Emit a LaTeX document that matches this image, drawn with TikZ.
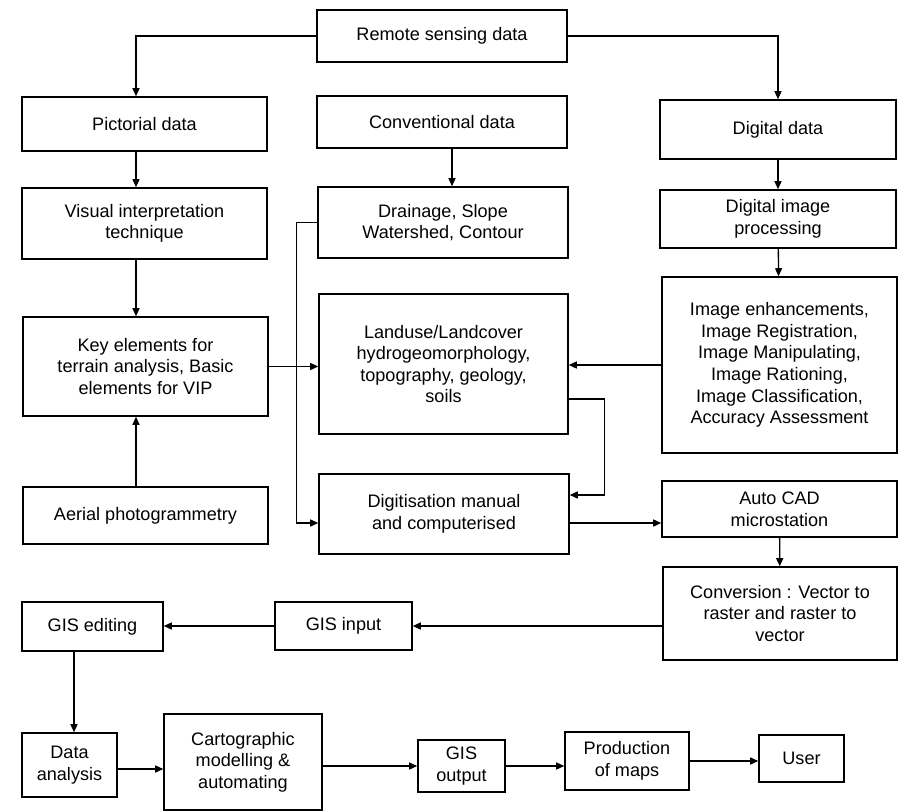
\documentclass[tikz,border=0pt]{standalone}
\usepackage{fontspec}
\setmainfont{Liberation Sans}
\usepackage{tikz}
\usetikzlibrary{arrows.meta}

\begin{document}
\begin{tikzpicture}[x=0.02cm, y=-0.02cm,
    box/.style = {draw=black, line width=0.9pt, align=center, inner sep=2pt,
                  font=\fontsize{10.3}{12.3}\selectfont},
    flow/.style = {draw=black, line width=0.75pt, -{Triangle[length=1.6mm,width=1.4mm]}}]
     \useasboundingbox (0,0) rectangle (899,811);
     % top row
     \node[box, minimum width=5cm, minimum height=1.04cm] (rs) at (442,36) {Remote sensing data};
     \node[box, minimum width=4.9cm, minimum height=1.08cm] (pict) at (144.5,124) {Pictorial data};
     \node[box, minimum width=5cm, minimum height=1.04cm] (conv) at (442,122) {Conventional data};
     \node[box, minimum width=4.72cm, minimum height=1.18cm] (digi) at (778,129.5) {Digital data};
     % second row
     \node[box, minimum width=4.9cm, minimum height=1.42cm] (visual) at (144.5,223.5) {Visual interpretation\\technique};
     \node[box, minimum width=5cm, minimum height=1.42cm] (drain) at (443,222.5) {Drainage, Slope\\Watershed, Contour};
     \node[box, minimum width=4.72cm, minimum height=1.16cm] (dip) at (778,219) {Digital image\\processing};
     % middle row
     \node[box, minimum width=4.9cm, minimum height=1.98cm] (key) at (145.5,366.5) {Key elements for\\terrain analysis, Basic\\elements for VIP};
     \node[box, minimum width=4.98cm, minimum height=2.8cm] (land) at (443.5,364) {Landuse/Landcover\\hydrogeomorphology,\\topography, geology,\\soils};
     \node[box, minimum width=4.7cm, minimum height=3.52cm] (img) at (779.5,365) {Image enhancements,\\Image Registration,\\Image Manipulating,\\Image Rationing,\\Image Classification,\\Accuracy Assessment};
     \node[box, minimum width=4.9cm, minimum height=1.14cm] (aerial) at (145.5,515.5) {Aerial photogrammetry};
     \node[box, minimum width=5cm, minimum height=1.6cm] (digit) at (444,514) {Digitisation manual\\and computerised};
     \node[box, minimum width=4.7cm, minimum height=1.12cm] (cad) at (779.5,509) {Auto CAD\\microstation};
     \node[box, minimum width=4.68cm, minimum height=1.86cm] (convert) at (780,613.5) {Conversion : Vector to\\raster and raster to\\vector};
     % GIS rows
     \node[box, minimum width=2.74cm, minimum height=0.96cm] (gisin) at (343.5,626) {GIS input};
     \node[box, minimum width=2.82cm, minimum height=0.98cm] (gisedit) at (92.5,626.5) {GIS editing};
     \node[box, minimum width=1.9cm, minimum height=1.28cm] (analysis) at (69.5,765) {Data\\analysis};
     \node[box, minimum width=3.16cm, minimum height=1.92cm] (carto) at (243,762) {Cartographic\\modelling \&\\automating};
     \node[box, minimum width=1.74cm, minimum height=1.04cm] (gisout) at (461.5,766) {GIS\\output};
     \node[box, minimum width=2.48cm, minimum height=1.16cm] (prod) at (627,761) {Production\\of maps};
     \node[box, minimum width=1.7cm, minimum height=0.94cm] (user) at (801.5,758.5) {User};

     % connectors
     \draw[flow] (rs.west) -| ([xshift=-0.17cm]pict.north);
     \draw[flow] (rs.east) -| (digi.north);
     \draw[flow] ([xshift=-0.17cm]pict.south) -- ([xshift=-0.17cm]visual.north);
     \draw[flow] ([xshift=0.2cm]conv.south) -- ([xshift=0.2cm]conv.south |- drain.north);
     \draw[flow] (digi) -- (dip);
     \draw[flow] ([xshift=-0.17cm]visual.south) -- ([xshift=-0.17cm]visual.south |- key.north);
     \draw[flow] (dip) -- (img);
     \draw[flow] ([xshift=-0.19cm]aerial.north) -- ([xshift=-0.19cm]aerial.north |- key.south);
     \draw[flow] (key.east) -- (key.east -| land.west);
     \draw[flow] (img.west) -- (img.west -| land.east);
     \draw[flow] (drain.west) -- ++(-21,0) |- ([yshift=-0.18cm]digit.west);
     \draw[flow] ([yshift=-0.7cm]land.east) -- ++(36,0) |- ([yshift=0.38cm]digit.east);
     \draw[flow] ([yshift=-0.18cm]digit.east) -- ([yshift=-0.18cm]digit.east -| cad.west);
     \draw[flow] (cad) -- (convert);
     \draw[flow] (convert.west |- gisin.east) -- (gisin.east);
     \draw[flow] (gisin.west) -- (gisedit.east |- gisin.west);
     \draw[flow] ([xshift=0.09cm]analysis.north |- gisedit.south) -- ([xshift=0.09cm]analysis.north);
     \draw[flow] ([yshift=-0.08cm]analysis.east) -- ([yshift=-0.08cm]analysis.east -| carto.west);
     \draw[flow] (carto.east |- gisout.west) -- (gisout.west);
     \draw[flow] (gisout.east) -- (gisout.east -| prod.west);
     \draw[flow] (prod.east) -- (prod.east -| user.west);
\end{tikzpicture}
\end{document}
